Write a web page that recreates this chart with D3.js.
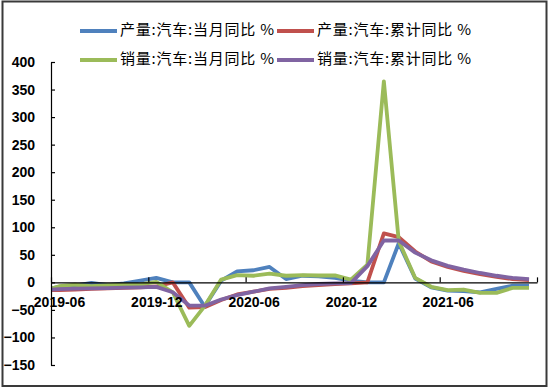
<!DOCTYPE html>
<html>
<head>
<meta charset="utf-8">
<script src="https://cdn.jsdelivr.net/npm/d3@7"></script>
<style>
  body { margin: 0; background: #fff; }
  .axis text { font-family: "Liberation Sans", Arial, sans-serif; font-weight: bold; font-size: 14px; fill: #000; }
  .axis path, .axis line { stroke: #000; stroke-width: 1.2; }
  .legend text { font-family: "Noto Sans CJK SC", sans-serif; font-size: 15px; fill: #000; }
</style>
</head>
<body>
<div id="chart"></div>
<script>
// months 2019-05 .. 2021-11
var months = ['2019-05','2019-06','2019-07','2019-08','2019-09','2019-10','2019-11','2019-12',
  '2020-01','2020-02','2020-03','2020-04','2020-05','2020-06','2020-07','2020-08','2020-09','2020-10','2020-11','2020-12',
  '2021-01','2021-02','2021-03','2021-04','2021-05','2021-06','2021-07','2021-08','2021-09','2021-10','2021-11'];

var prodMonth = [-14, -8, -6, -1, -5, -2, 3, 8,
  0, 0, -44, 3, 20, 22, 28, 6, 12, 11, 8, 3,
  0, 0, 71, 7, -9, -15, -16, -18, -12, -6, -6];
var prodCum = [-14, -14, -13, -12, -11, -10, -9, -7.5,
  0, -46, -45, -32, -22, -17, -12, -10, -7, -5, -3, -2,
  0, 89, 82, 56, 38, 28, 21, 15, 10, 6, 4];
var salesMonth = [-16, -7, -4.3, -6.9, -5.2, -4, -3.6, 1,
  -18, -79, -43, 5, 13, 12, 16, 12, 13, 12.5, 12.6, 5,
  32, 365, 75, 8, -8, -14, -13, -19, -19, -10, -10];
var salesCum = [-14, -12.4, -11.4, -11, -10.3, -9.7, -9.1, -8.2,
  -18, -42, -42.4, -31.1, -23.1, -16.9, -11, -8, -5, -3, -2, -1.5,
  29.5, 76, 76, 54, 40, 30, 23, 17, 12, 8, 6];

var seriesNames = ['产量:汽车:当月同比 %', '产量:汽车:累计同比 %', '销量:汽车:当月同比 %', '销量:汽车:累计同比 %'];
var seriesColors = ['#4F81BD', '#C0504D', '#9BBB59', '#8064A2'];
var yTicks = [400, 350, 300, 250, 200, 150, 100, 50, 0, -50, -100, -150];
var xTickMonths = ['2019-06', '2019-12', '2020-06', '2020-12', '2021-06', '2021-12'];

var width = 550, height = 390;
var parse = d3.timeParse('%Y-%m');
var fmt = d3.timeFormat('%Y-%m');
var mid = function(m) { return d3.timeDay.offset(parse(m), 15); };

var x = d3.scaleTime().domain([parse('2019-06'), parse('2021-12')]).range([51, 537]);
var y = d3.scaleLinear().domain([-150, 400]).range([365, 62]);

var svg = d3.select('#chart').append('svg')
  .attr('width', width)
  .attr('height', height);

svg.append('rect')
  .attr('x', 2.5).attr('y', 1.5)
  .attr('width', 544).attr('height', 384.5)
  .attr('fill', 'none').attr('stroke', '#3a3a3a').attr('stroke-width', 2);

svg.append('clipPath').attr('id', 'plot-clip')
  .append('rect').attr('x', 51).attr('y', 0).attr('width', 486).attr('height', height);

var line = d3.line()
  .x(function(d, i) { return x(mid(months[i])); })
  .y(function(d) { return y(d); });

var plot = svg.append('g').attr('clip-path', 'url(#plot-clip)');
[prodMonth, prodCum, salesMonth, salesCum].forEach(function(s, k) {
  plot.append('path')
    .attr('d', line(s))
    .attr('fill', 'none')
    .attr('stroke', seriesColors[k])
    .attr('stroke-width', 3.8)
    .attr('stroke-linejoin', 'round');
});

// y axis
svg.append('g')
  .attr('class', 'axis y-axis')
  .attr('transform', 'translate(51,0)')
  .call(d3.axisLeft(y).tickValues(yTicks).tickSize(-4).tickSizeOuter(0).tickPadding(16));

// x axis on the zero line, labels sit over the lines
var xAxis = svg.append('g')
  .attr('class', 'axis x-axis')
  .attr('transform', 'translate(0,' + y(0) + ')')
  .call(d3.axisBottom(x)
    .tickValues(xTickMonths.map(parse))
    .tickSize(-5)
    .tickSizeOuter(0)
    .tickPadding(15)
    .tickFormat(function(d) { return fmt(d) === '2021-12' ? '' : fmt(d); }));
xAxis.selectAll('.tick text').attr('x', 8);

// legend
var legend = svg.append('g').attr('class', 'legend');
seriesNames.forEach(function(name, k) {
  var lx = k % 2 === 0 ? 80 : 277;
  var ly = k < 2 ? 31 : 60;
  legend.append('line')
    .attr('x1', lx).attr('x2', lx + 37)
    .attr('y1', ly).attr('y2', ly)
    .attr('stroke', seriesColors[k]).attr('stroke-width', 3.8);
  legend.append('text')
    .attr('x', lx + 40).attr('y', ly)
    .attr('dominant-baseline', 'middle')
    .attr('textLength', 154)
    .attr('lengthAdjust', 'spacing')
    .text(name);
});
</script>
</body>
</html>
